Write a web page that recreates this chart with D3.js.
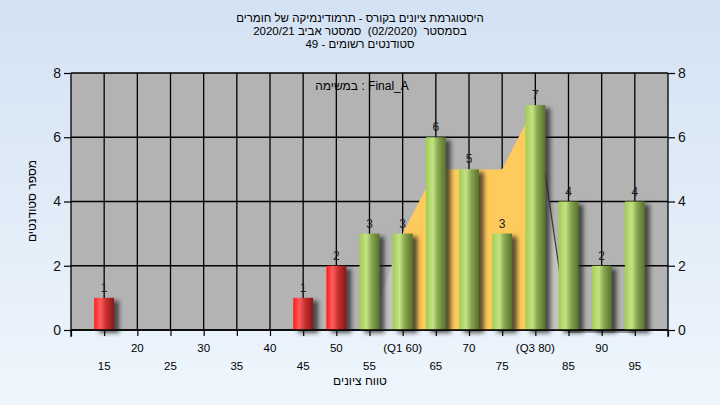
<!DOCTYPE html>
<html><head><meta charset="utf-8">
<script src="https://cdn.jsdelivr.net/npm/d3@7"></script>
<style>html,body{margin:0;padding:0;overflow:hidden;background:#e4eef9} text{white-space:pre}</style>
</head><body>
<svg id="c" width="720" height="405"></svg>
<script>
const categories = [15,45,50,55,60,65,70,75,80,85,90,95];
const counts     = [1,1,2,3,3,6,5,3,7,4,2,4];
const passMark = 55;
const areaX    = [55,60,65,70,75,80,85,90,95];
const areaVals = [0,3,5,5,5,7,0,0,0];
const q1 = 60, q3 = 80;
const xTicks = [10,15,20,25,30,35,40,45,50,55,60,65,70,75,80,85,90,95,100];
const xTickLabels = {15:"15",20:"20",25:"25",30:"30",35:"35",40:"40",45:"45",50:"50",55:"55",60:"(Q1 60)",65:"65",70:"70",75:"75",80:"(Q3 80)",85:"85",90:"90",95:"95"};
const yTicks = [0,2,4,6,8];
const titleLines = ["היסטוגרמת ציונים בקורס - תרמודינמיקה של חומרים","בסמסטר  (02/2020)  סמסטר אביב 2020/21","סטודנטים רשומים - 49"];
const legendText = "במשימה : Final_A";
const xTitle = "טווח ציונים";
const yTitle = "מספר סטודנטים";

const svg = d3.select("#c");
const W=720,H=405, L=71,R=668,T=73,B=330;
const x = d3.scaleLinear().domain([10,100]).range([L,R]);
const y = d3.scaleLinear().domain([0,8]).range([B,T]);
const font = "'Liberation Sans', Arial, sans-serif";

const defs = svg.append("defs");
const bg = defs.append("linearGradient").attr("id","bg").attr("x1",0).attr("y1",0).attr("x2",0).attr("y2",1);
bg.append("stop").attr("offset","0%").attr("stop-color","#d3e2f3");
bg.append("stop").attr("offset","100%").attr("stop-color","#eff6fd");
const gG = defs.append("linearGradient").attr("id","gG").attr("x1",0).attr("x2",1).attr("y1",0).attr("y2",0);
[["0%","#a2cc52"],["35%","#c4e484"],["60%","#8aa850"],["100%","#56722a"]].forEach(s=>gG.append("stop").attr("offset",s[0]).attr("stop-color",s[1]));
const gR = defs.append("linearGradient").attr("id","gR").attr("x1",0).attr("x2",1).attr("y1",0).attr("y2",0);
[["0%","#ff1c1c"],["30%","#ff5c5c"],["60%","#c83030"],["100%","#861818"]].forEach(s=>gR.append("stop").attr("offset",s[0]).attr("stop-color",s[1]));
const f = defs.append("filter").attr("id","sh").attr("x","-50%").attr("y","-20%").attr("width","200%").attr("height","140%");
f.append("feDropShadow").attr("dx",5).attr("dy",3).attr("stdDeviation",2).attr("flood-color","#202020").attr("flood-opacity",0.75);
defs.append("clipPath").attr("id","q").append("rect").attr("x",x(q1)).attr("y",T).attr("width",x(q3)-x(q1)).attr("height",B-T);
defs.append("clipPath").attr("id","plot").append("rect").attr("x",L).attr("y",T).attr("width",R-L).attr("height",B-T);

svg.append("rect").attr("width",W).attr("height",H).attr("fill","url(#bg)");
svg.append("rect").attr("x",L).attr("y",T).attr("width",R-L).attr("height",B-T).attr("fill","#b3b3b3");

// grid
svg.append("g").selectAll("line").data(xTicks.filter(d=>d>10&&d<100)).join("line")
  .attr("x1",d=>x(d)).attr("x2",d=>x(d)).attr("y1",T).attr("y2",B).attr("stroke","#000").attr("stroke-width",1.3);
svg.append("g").selectAll("line").data(yTicks).join("line")
  .attr("x1",L).attr("x2",R).attr("y1",d=>y(d)).attr("y2",d=>y(d)).attr("stroke","#000").attr("stroke-width",1.3);

// area
const pts = areaX.map((d,i)=>[d,areaVals[i]]);
const area = d3.area().x(d=>x(d[0])).y0(y(0)).y1(d=>y(d[1]));
const line = d3.line().x(d=>x(d[0])).y(d=>y(d[1]));
svg.append("path").attr("d",area(pts)).attr("fill","#c3c3c3").attr("clip-path","url(#plot)");
svg.append("path").attr("d",line(pts.filter(d=>d[0]>=q3))).attr("fill","none").attr("stroke","#3a3a3a").attr("stroke-width",1.2).attr("transform","translate(0,2)");
svg.append("path").attr("d",area(pts)).attr("fill","#ffca5c").attr("clip-path","url(#q)");

// bars
const bw = x(11.5)-x(10);
const bars = svg.append("g");
bars.selectAll("rect").data(categories).join("rect")
  .attr("x",(d)=>x(d)-bw).attr("width",bw*2)
  .attr("y",(d,i)=>y(counts[i])).attr("height",(d,i)=>y(0)-y(counts[i]))
  .attr("fill",d=>d<passMark?"url(#gR)":"url(#gG)")
  .attr("filter","url(#sh)");
svg.append("g").selectAll("text").data(categories).join("text")
  .attr("x",d=>x(d)).attr("y",(d,i)=>y(counts[i])-6)
  .attr("text-anchor","middle").attr("font-family",font).attr("font-size",12).attr("fill","#1e1e28")
  .text((d,i)=>counts[i]);

// axes
const axisG = svg.append("g").attr("stroke","#000").attr("stroke-width",1.3);
axisG.append("line").attr("x1",L).attr("x2",L).attr("y1",T).attr("y2",B+7);
axisG.append("line").attr("x1",R).attr("x2",R).attr("y1",T).attr("y2",B+7);
axisG.append("line").attr("x1",L).attr("x2",R).attr("y1",B).attr("y2",B);
const xa = svg.append("g").attr("transform",`translate(0,${B})`)
  .call(d3.axisBottom(x).tickValues(xTicks).tickSize(6).tickFormat(""));
xa.select(".domain").remove();
xa.selectAll("line").attr("stroke","#000").attr("stroke-width",1.2);
svg.append("g").selectAll("text").data(xTicks.filter(d=>xTickLabels[d])).join("text")
  .attr("x",d=>x(d)).attr("y",d=>(d%10===0)?352:370)
  .attr("text-anchor","middle").attr("font-family",font).attr("font-size",11.5).attr("fill","#000")
  .text(d=>xTickLabels[d]);

const yl = svg.append("g").attr("transform",`translate(${L},0)`).call(d3.axisLeft(y).tickValues(yTicks).tickSize(7).tickPadding(3).tickFormat(d3.format("d")));
const yr = svg.append("g").attr("transform",`translate(${R},0)`).call(d3.axisRight(y).tickValues(yTicks).tickSize(7).tickPadding(3).tickFormat(d3.format("d")));
[yl,yr].forEach(g=>{g.select(".domain").remove();g.selectAll("line").attr("stroke","#000").attr("stroke-width",1.2);
  g.selectAll("text").attr("font-family",font).attr("font-size",14).attr("fill","#111");});

// titles
svg.append("g").selectAll("text").data(titleLines).join("text")
  .attr("x",360).attr("y",(d,i)=>22+i*13).attr("text-anchor","middle").attr("direction","rtl")
  .attr("font-family",font).attr("font-size",11.5).attr("fill","#000").text(d=>d);
svg.append("text").attr("x",362).attr("y",90).attr("text-anchor","middle")
  .attr("font-family",font).attr("font-size",12).attr("fill","#000").text(legendText);
svg.append("text").attr("x",360).attr("y",385).attr("text-anchor","middle").attr("direction","rtl")
  .attr("font-family",font).attr("font-size",12).attr("fill","#000").text(xTitle);
svg.append("text").attr("transform","translate(36,201) rotate(-90)").attr("text-anchor","middle").attr("direction","rtl")
  .attr("font-family",font).attr("font-size",12).attr("fill","#000").text(yTitle);
</script>
</body></html>
